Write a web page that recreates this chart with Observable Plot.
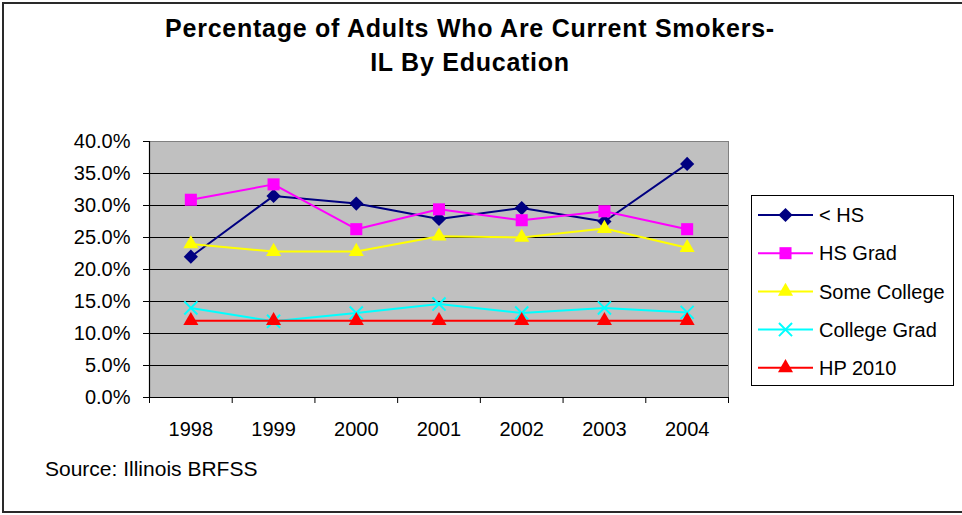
<!DOCTYPE html>
<html>
<head>
<meta charset="utf-8">
<script src="https://cdn.jsdelivr.net/npm/d3@7"></script>
<script src="https://cdn.jsdelivr.net/npm/@observablehq/plot@0.6"></script>
<style>
  html, body { margin: 0; padding: 0; background: #fff; overflow: hidden; }
  #page { position: relative; width: 962px; height: 515px; font-family: "Liberation Sans", Arial, sans-serif; color: #000; }
  #border { position: absolute; left: 2px; top: 2px; width: 980px; height: 507px; border: 2px solid #2a2a2a; pointer-events: none; }
  #title { position: absolute; left: 0; top: 11px; width: 940px; text-align: center; font-weight: bold; font-size: 25px; letter-spacing: 0.75px; line-height: 34px; }
  #chart { position: absolute; left: 0; top: 0; }
  #legend { position: absolute; left: 751px; top: 195px; }
  #source { position: absolute; left: 45px; top: 458px; font-size: 21px; line-height: 21px; }
</style>
</head>
<body>
<div id="page">
  <div id="chart"></div>
  <div id="title">Percentage of Adults Who Are Current Smokers-<br>IL By Education</div>
  <div id="legend"></div>
  <div id="source">Source: Illinois BRFSS</div>
  <div id="border"></div>
</div>
<script>
const years = [1998, 1999, 2000, 2001, 2002, 2003, 2004];
const lessHS = [22.0, 31.5, 30.3, 27.9, 29.6, 27.5, 36.5];
const hsGrad = [30.9, 33.3, 26.3, 29.4, 27.7, 29.1, 26.3];
const someCollege = [24.0, 22.8, 22.8, 25.2, 25.0, 26.4, 23.4];
const collegeGrad = [14.0, 11.9, 13.2, 14.6, 13.2, 14.0, 13.3];
const hp2010 = [12.0, 12.0, 12.0, 12.0, 12.0, 12.0, 12.0];
const seriesNames = ["< HS", "HS Grad", "Some College", "College Grad", "HP 2010"];
const seriesValues = [lessHS, hsGrad, someCollege, collegeGrad, hp2010];
const seriesColors = ["#000080", "#FF00FF", "#FFFF00", "#00FFFF", "#FF0000"];
const seriesSymbols = ["diamond2", "square", "triangle", "times", "triangle"];
const seriesRadius = [6.4, 6.8, 5.6, 6, 5.6];
const yTicks = [0, 5, 10, 15, 20, 25, 30, 35, 40];

const FONT = '"Liberation Sans", Arial, sans-serif';
const xDomain = [years[0] - 0.5, years[years.length - 1] + 0.5];
const bounds = years.map(y => y - 0.5).concat([years[years.length - 1] + 0.5]);

const series = seriesNames.map((name, i) => ({
  name,
  color: seriesColors[i],
  symbol: seriesSymbols[i],
  r: seriesRadius[i],
  rows: years.map((year, j) => ({year, value: seriesValues[i][j]}))
}));

const marks = [
  Plot.frame({fill: "#C0C0C0", stroke: null}),
  Plot.ruleY(yTicks, {stroke: "#000", strokeWidth: 1}),
  Plot.frame({stroke: "#808080", fill: "none"}),
  Plot.ruleX([xDomain[0]], {stroke: "#000", strokeWidth: 1.2}),
  Plot.ruleY([yTicks[0]], {stroke: "#000", strokeWidth: 1.2}),
  Plot.axisY({ticks: yTicks, tickSize: 6, tickPadding: 13, tickFormat: d => d.toFixed(1) + "%", fontSize: 20, stroke: "#000", label: null}),
  Plot.axisX({ticks: years, tickSize: 0, tickPadding: 24, tickFormat: d => String(d), fontSize: 20, label: null}),
  Plot.axisX({ticks: bounds, tickSize: 6, tickFormat: () => "", stroke: "#000", label: null})
];
for (const s of series) {
  marks.push(Plot.line(s.rows, {x: "year", y: "value", stroke: s.color, strokeWidth: 2}));
  if (s.symbol === "times") {
    marks.push(Plot.dot(s.rows, {x: "year", y: "value", symbol: s.symbol, r: s.r, stroke: s.color, strokeWidth: 2, fill: "none"}));
  } else {
    marks.push(Plot.dot(s.rows, {x: "year", y: "value", symbol: s.symbol, r: s.r, fill: s.color, stroke: "none"}));
  }
}

const chart = Plot.plot({
  width: 750,
  height: 460,
  marginLeft: 149,
  marginRight: 22,
  marginTop: 141,
  marginBottom: 63,
  style: {fontFamily: FONT, fontSize: "20px", background: "transparent", color: "#000"},
  x: {type: "linear", domain: xDomain, label: null},
  y: {domain: [yTicks[0], yTicks[yTicks.length - 1]], label: null},
  marks
});
document.getElementById("chart").appendChild(chart);

// Legend
const lw = 203, lh = 191, rowStart = 20, rowStep = 38.2;
const leg = d3.select("#legend").append("svg")
  .attr("width", lw).attr("height", lh)
  .style("font-family", FONT).style("font-size", "20px");
leg.append("rect").attr("x", 0.5).attr("y", 0.5).attr("width", lw - 1).attr("height", lh - 1)
  .attr("fill", "#fff").attr("stroke", "#000");
const symMap = {diamond2: d3.symbolDiamond2, square: d3.symbolSquare, triangle: d3.symbolTriangle, times: d3.symbolTimes};
series.forEach((s, i) => {
  const y = rowStart + i * rowStep;
  const g = leg.append("g");
  g.append("line").attr("x1", 7).attr("x2", 62).attr("y1", y).attr("y2", y)
    .attr("stroke", s.color).attr("stroke-width", 2);
  const path = d3.symbol(symMap[s.symbol], Math.PI * s.r * s.r)();
  const p = g.append("path").attr("d", path).attr("transform", `translate(34.5,${y})`);
  if (s.symbol === "times") p.attr("fill", "none").attr("stroke", s.color).attr("stroke-width", 2);
  else p.attr("fill", s.color);
  g.append("text").attr("x", 68).attr("y", y).attr("dy", "0.36em").attr("fill", "#000").text(s.name);
});
</script>
</body>
</html>
